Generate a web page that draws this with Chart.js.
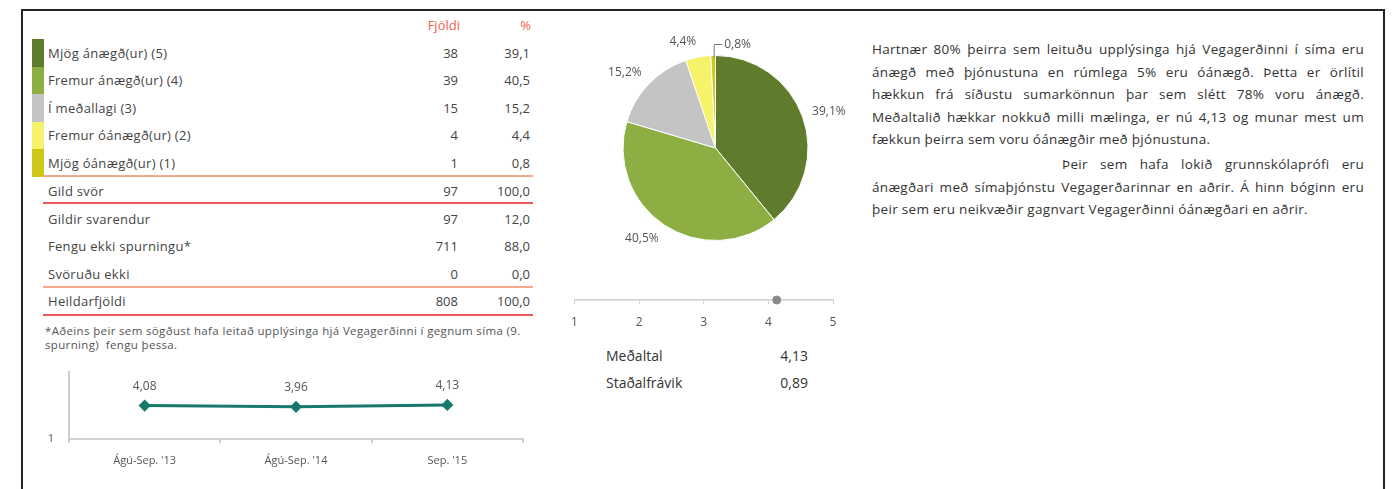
<!DOCTYPE html>
<html lang="is">
<head>
<meta charset="utf-8">
<title>Ánægja með símaþjónustu Vegagerðarinnar</title>
<script src="https://cdn.jsdelivr.net/npm/chart.js@4.4.1/dist/chart.umd.min.js"></script>
<style>
    body { margin: 0; background: #fff; font-family: "Open Sans", sans-serif; color: #444; }
    #page { position: relative; width: 1400px; height: 489px; overflow: hidden; }
    #frame { position: absolute; left: 21px; top: 9px; width: 1360px; height: 500px; border: 2px solid #222; border-bottom: none; }
    .abs { position: absolute; white-space: nowrap; }
    .cell { position: absolute; font-size: 13px; letter-spacing: 0.3px; line-height: 16px; transform: translateY(-8px); white-space: nowrap; }
    .num { text-align: right; letter-spacing: 0; }
    .head { color: #f0604f; }
    .rule { position: absolute; left: 43px; width: 490px; height: 2px; }
    .swatch { position: absolute; left: 32px; width: 12px; }
    #note { left: 45px; top: 324px; font-size: 11.5px; letter-spacing: 0.35px; line-height: 14px; color: #555; }
    #para { left: 872px; top: 38px; width: 492px; font-size: 13.5px; letter-spacing: 0.3px; line-height: 22.5px; color: #333; }
    #para div { text-align: justify; text-align-last: justify; white-space: nowrap; }
    #para div.last { text-align-last: left; }
    #para div.gap { margin-top: 2.5px; }
    .stat { font-size: 14px; color: #333; }
</style>
</head>
<body>
<div id="page">
    <div id="frame"></div>
    <div id="table"></div>
    <div id="note" class="abs">*Aðeins þeir sem sögðust hafa leitað upplýsinga hjá Vegagerðinni í gegnum síma (9.<br>spurning)&nbsp; fengu þessa.</div>

    <div class="abs" style="left:30px; top:358px; width:500px; height:116px;"><canvas id="chartTrend"></canvas></div>
    <div class="abs" style="left:560px; top:30px; width:311px; height:236px;"><canvas id="chartPie"></canvas></div>
    <div class="abs" style="left:560px; top:280px; width:290px; height:50px;"><canvas id="chartScale"></canvas></div>

    <div id="stats"></div>

    <div id="para" class="abs">
        <div>Hartnær 80% þeirra sem leituðu upplýsinga hjá Vegagerðinni í síma eru</div>
        <div>ánægð með þjónustuna en rúmlega 5% eru óánægð. Þetta er örlítil</div>
        <div>hækkun frá síðustu sumarkönnun þar sem slétt 78% voru ánægð.</div>
        <div>Meðaltalið hækkar nokkuð milli mælinga, er nú 4,13 og munar mest um</div>
        <div class="last">fækkun þeirra sem voru óánægðir með þjónustuna.</div>
        <div class="gap" style="padding-left:190px;">Þeir sem hafa lokið grunnskólaprófi eru</div>
        <div>ánægðari með símaþjónstu Vegagerðarinnar en aðrir. Á hinn bóginn eru</div>
        <div class="last">þeir sem eru neikvæðir gagnvart Vegagerðinni óánægðari en aðrir.</div>
    </div>
</div>

<script>
// answer categories (5 = very satisfied ... 1 = very dissatisfied)
const categories = ["Mjög ánægð(ur) (5)", "Fremur ánægð(ur) (4)", "Í meðallagi (3)", "Fremur óánægð(ur) (2)", "Mjög óánægð(ur) (1)"];
const counts = [38, 39, 15, 4, 1];
const percents = [39.1, 40.5, 15.2, 4.4, 0.8];
const sliceColors = ["#5f7b2c", "#8cae42", "#c4c4c4", "#f6f36a", "#cdc817"];

// summary rows under the table
const summaryLabels = ["Gild svör", "Gildir svarendur", "Fengu ekki spurningu*", "Svöruðu ekki", "Heildarfjöldi"];
const summaryCounts = [97, 97, 711, 0, 808];
const summaryPercents = [100.0, 12.0, 88.0, 0.0, 100.0];

// trend of the mean between surveys
const trendLabels = ["Ágú-Sep. '13", "Ágú-Sep. '14", "Sep. '15"];
const trendMeans = [4.08, 3.96, 4.13];

// 1-5 scale strip
const scaleTicks = [1, 2, 3, 4, 5];
const meanValue = 4.13;
const stdDev = 0.89;

const FONT = "'Open Sans', sans-serif";
const comma = (v, d) => v.toFixed(d).replace(".", ",");

function buildTable() {
    const box = document.getElementById("table");
    let html = "";
    const cell = (txt, y, left, width, cls) =>
        `<div class="cell ${cls || ""}" style="top:${y}px; left:${left}px; width:${width}px;">${txt}</div>`;

    html += cell("Fjöldi", 25, 380, 80, "num head");
    html += cell("%", 25, 470, 61, "num head");

    // answer rows with colour swatch
    categories.forEach((label, i) => {
        const top = 39 + i * 27.5;
        const y = top + 13.75;
        html += `<div class="swatch" style="top:${top}px; height:27.5px; background:${sliceColors[i]};"></div>`;
        html += cell(label, y, 48, 300);
        html += cell(counts[i], y, 380, 78, "num");
        html += cell(comma(percents[i], 1), y, 470, 60, "num");
    });

    // summary rows
    const summaryY = [191, 218.5, 246, 273.5, 301];
    summaryLabels.forEach((label, i) => {
        html += cell(label, summaryY[i], 48, 300);
        html += cell(summaryCounts[i], summaryY[i], 380, 78, "num");
        html += cell(comma(summaryPercents[i], 1), summaryY[i], 470, 60, "num");
    });

    // separator rules
    html += `<div class="rule" style="top:175px; background:#f7a88e;"></div>`;
    html += `<div class="rule" style="top:202px; background:#ee5a5a;"></div>`;
    html += `<div class="rule" style="top:286px; background:#f7a88e;"></div>`;
    html += `<div class="rule" style="top:314px; background:#ee5a5a;"></div>`;
    box.innerHTML = html;
}

function buildStats() {
    const box = document.getElementById("stats");
    box.innerHTML =
        `<div class="abs stat" style="left:606px; top:346px;">Meðaltal</div>` +
        `<div class="abs stat" style="left:740px; top:346px; width:68px; text-align:right;">${comma(meanValue, 2)}</div>` +
        `<div class="abs stat" style="left:606px; top:373px;">Staðalfrávik</div>` +
        `<div class="abs stat" style="left:740px; top:373px; width:68px; text-align:right;">${comma(stdDev, 2)}</div>`;
}

// value labels above the trend points
const trendValueLabels = {
    id: "trendValueLabels",
    afterDatasetsDraw(chart) {
        const { ctx } = chart;
        ctx.save();
        ctx.font = `12px ${FONT}`;
        ctx.fillStyle = "#555";
        ctx.textAlign = "center";
        ctx.textBaseline = "middle";
        chart.getDatasetMeta(0).data.forEach((pt, i) => {
            ctx.fillText(comma(trendMeans[i], 2), pt.x, pt.y - 19);
        });
        ctx.restore();
    }
};

// percent labels round the pie, with a leader line for the tiny slice
const pieValueLabels = {
    id: "pieValueLabels",
    afterDatasetsDraw(chart) {
        const { ctx } = chart;
        ctx.save();
        ctx.font = `12px ${FONT}`;
        ctx.fillStyle = "#555";
        ctx.textBaseline = "middle";
        chart.getDatasetMeta(0).data.forEach((arc, i) => {
            const mid = (arc.startAngle + arc.endAngle) / 2;
            const r = arc.outerRadius;
            const text = comma(percents[i], 1) + "%";
            const cos = Math.cos(mid), sin = Math.sin(mid);
            if (percents[i] < 2) {
                const x0 = arc.x + cos * r, y0 = arc.y + sin * r;
                ctx.strokeStyle = "#777";
                ctx.lineWidth = 1;
                ctx.beginPath();
                ctx.moveTo(x0 + 1, y0 + 2);
                ctx.lineTo(x0 + 1, y0 - 11);
                ctx.lineTo(x0 + 9, y0 - 11);
                ctx.stroke();
                ctx.textAlign = "left";
                ctx.fillText(text, x0 + 11, y0 - 11);
            } else {
                const d = r + 10;
                ctx.textAlign = cos >= 0 ? "left" : "right";
                ctx.fillText(text, arc.x + cos * d, arc.y + sin * (d + 6));
            }
        });
        ctx.restore();
    }
};

function initTrend() {
    new Chart(document.getElementById("chartTrend"), {
        type: "line",
        data: {
            labels: trendLabels,
            datasets: [{
                data: trendMeans,
                borderColor: "#17786c",
                backgroundColor: "#17786c",
                borderWidth: 3,
                pointStyle: "rectRot",
                pointRadius: 4,
                tension: 0
            }]
        },
        options: {
            responsive: true,
            maintainAspectRatio: false,
            animation: false,
            layout: { padding: { top: 10, right: 7, left: 0, bottom: 0 } },
            plugins: { legend: { display: false }, tooltip: { enabled: false } },
            scales: {
                x: {
                    offset: true,
                    grid: { offset: true, drawOnChartArea: false, tickLength: 4, color: "#cfcfcf", lineWidth: 2 },
                    border: { color: "#cfcfcf", width: 2 },
                    ticks: { font: { family: FONT, size: 11 }, color: "#555", padding: 11, maxRotation: 0 },
                    afterFit: s => { s.height = 35; }
                },
                y: {
                    min: 1,
                    max: 7.2,
                    grid: { display: false },
                    border: { color: "#cfcfcf", width: 2 },
                    afterBuildTicks: s => { s.ticks = [{ value: 1 }]; },
                    ticks: { font: { family: FONT, size: 11 }, color: "#555", padding: 7 },
                    afterFit: s => { s.width = 39; }
                }
            }
        },
        plugins: [trendValueLabels]
    });
}

function initPie() {
    new Chart(document.getElementById("chartPie"), {
        type: "pie",
        data: {
            labels: categories,
            datasets: [{
                data: percents,
                backgroundColor: sliceColors,
                borderColor: "#ffffff",
                borderWidth: 1
            }]
        },
        options: {
            responsive: true,
            maintainAspectRatio: false,
            animation: false,
            layout: { padding: { top: 25, bottom: 25, left: 20, right: 20 } },
            plugins: { legend: { display: false }, tooltip: { enabled: false } }
        },
        plugins: [pieValueLabels]
    });
}

function initScale() {
    new Chart(document.getElementById("chartScale"), {
        type: "scatter",
        data: {
            datasets: [{
                data: [{ x: meanValue, y: 0 }],
                backgroundColor: "#8a8a8a",
                borderColor: "#8a8a8a",
                pointRadius: 4,
                clip: false
            }]
        },
        options: {
            responsive: true,
            maintainAspectRatio: false,
            animation: false,
            layout: { padding: { top: 10, left: 13, right: 17, bottom: 0 } },
            plugins: { legend: { display: false }, tooltip: { enabled: false } },
            scales: {
                x: {
                    type: "linear",
                    min: 1,
                    max: 5,
                    afterBuildTicks: s => { s.ticks = scaleTicks.map(v => ({ value: v })); },
                    grid: { drawOnChartArea: false, tickLength: 4, color: "#d6d6d6" },
                    border: { color: "#cfcfcf", width: 1.5 },
                    ticks: { font: { family: FONT, size: 12 }, color: "#555", padding: 11 },
                    afterFit: s => { s.height = 30; }
                },
                y: { display: false, min: 0, max: 1 }
            }
        }
    });
}

document.addEventListener("DOMContentLoaded", () => {
    buildTable();
    buildStats();
    initTrend();
    initPie();
    initScale();
});
</script>
</body>
</html>
